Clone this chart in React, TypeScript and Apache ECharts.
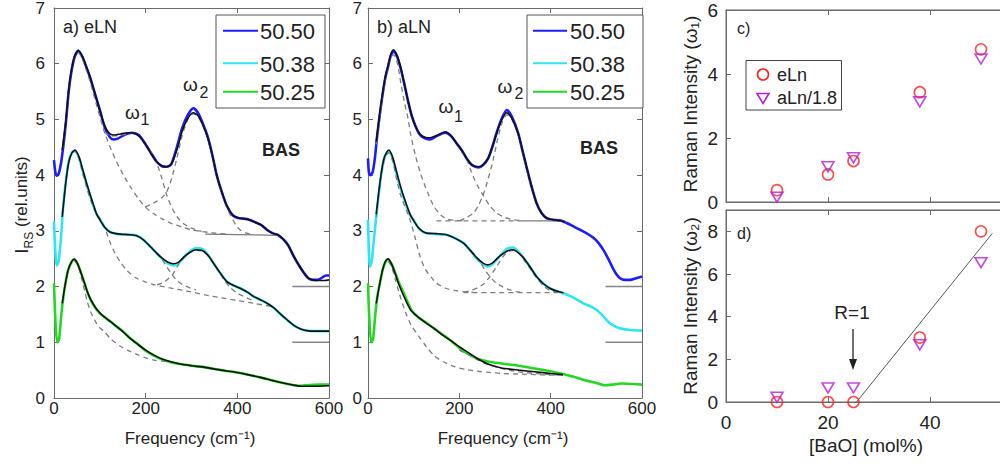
import React, { useEffect, useRef } from 'react';
import * as echarts from 'echarts';

// ---------- data ----------
const sampleNames = ['50.50', '50.38', '50.25'];
const sampleColors = ['#1c1cff', '#2de6f2', '#22d822'];

// panel a) eLN
const aBlue = [[0,4.27],[3,4.05],[6,3.99],[10,4.02],[15,4.2],[20,4.5],[26,4.95],[32,5.5],[38,5.86],[45,6.12],[53,6.23],[62,6.12],[70,5.95],[78,5.77],[88,5.5],[100,5.17],[111,4.85],[122,4.68],[130,4.64],[140,4.66],[155,4.73],[170,4.76],[185,4.72],[200,4.55],[213,4.38],[224,4.24],[236,4.16],[246,4.15],[256,4.2],[268,4.5],[280,4.85],[292,5.08],[304,5.2],[314,5.12],[325,4.92],[335,4.7],[345,4.38],[355,4.0],[366,3.7],[377,3.45],[390,3.28],[402,3.23],[414,3.22],[426,3.2],[440,3.15],[453,3.1],[466,3.01],[479,2.95],[490,2.92],[500,2.85],[511,2.74],[522,2.56],[533,2.4],[545,2.25],[555,2.15],[565,2.12],[575,2.12],[585,2.16],[593,2.2],[600,2.2]];
const aBlueFit = [[18,4.45],[26,4.98],[32,5.52],[38,5.88],[45,6.14],[53,6.24],[62,6.13],[70,5.96],[78,5.78],[88,5.5],[100,5.16],[111,4.88],[122,4.74],[133,4.72],[145,4.74],[160,4.76],[175,4.75],[188,4.68],[200,4.55],[213,4.37],[224,4.24],[236,4.16],[246,4.15],[256,4.2],[268,4.45],[280,4.8],[292,5.02],[304,5.12],[314,5.07],[325,4.9],[335,4.68],[345,4.37],[355,4.0],[366,3.7],[377,3.45],[390,3.28],[402,3.23],[414,3.22],[426,3.2],[440,3.15],[453,3.1],[466,3.01],[479,2.95],[490,2.92],[500,2.85],[511,2.74],[522,2.56],[533,2.4],[545,2.25],[555,2.15],[565,2.12],[575,2.11],[590,2.11],[600,2.12]];
const aBlueC1 = [[18,4.45],[26,4.98],[32,5.52],[38,5.88],[45,6.12],[53,6.2],[62,6.08],[70,5.9],[78,5.7],[88,5.4],[100,5.05],[111,4.75],[125,4.45],[140,4.18],[155,3.95],[169,3.76],[184,3.58],[199,3.43],[217,3.31],[235,3.22],[257,3.13],[279,3.07],[300,3.02],[322,2.99],[350,2.96],[380,2.94]];
const aBlueW1 = [[110,4.77],[125,4.7],[140,4.71],[155,4.73],[170,4.75],[185,4.7],[200,4.55],[213,4.4],[224,4.22],[235,3.95],[246,3.64],[257,3.42],[268,3.26],[282,3.13],[300,3.05],[322,2.99]];
const aBlueW2 = [[199,3.43],[213,3.48],[226,3.54],[236,3.6],[246,3.7],[257,3.95],[268,4.3],[280,4.72],[292,5.0],[304,5.1],[314,5.05],[325,4.88],[335,4.66],[345,4.35],[355,4.0],[366,3.68],[377,3.42],[390,3.2],[400,3.07],[409,3.0],[420,2.96],[431,2.94]];
const aBlueBase = [[330,2.94],[490,2.92]];

const aCyan = [[0,3.17],[3,2.6],[6,2.38],[10,2.45],[15,2.85],[20,3.43],[26,3.9],[32,4.25],[39,4.4],[46,4.43],[55,4.3],[62,4.1],[71,3.85],[80,3.6],[86,3.45],[93,3.3],[100,3.21],[111,3.06],[122,2.98],[135,2.95],[150,2.93],[166,2.93],[180,2.92],[195,2.84],[210,2.72],[224,2.6],[236,2.5],[248,2.42],[260,2.38],[272,2.42],[285,2.54],[298,2.64],[310,2.69],[322,2.68],[335,2.58],[348,2.42],[362,2.25],[377,2.09],[392,2.02],[406,1.97],[422,1.9],[436,1.82],[451,1.76],[465,1.7],[479,1.62],[495,1.5],[509,1.4],[524,1.3],[538,1.24],[551,1.21],[570,1.2],[600,1.2]];
const aCyanFit = [[18,3.25],[26,3.88],[32,4.22],[39,4.4],[46,4.45],[55,4.32],[62,4.12],[71,3.86],[80,3.62],[86,3.47],[93,3.3],[100,3.2],[111,3.06],[122,2.98],[135,2.95],[150,2.94],[166,2.93],[180,2.91],[195,2.84],[210,2.72],[224,2.6],[236,2.51],[248,2.44],[260,2.41],[272,2.44],[285,2.54],[298,2.62],[310,2.66],[322,2.65],[335,2.57],[348,2.42],[362,2.25],[377,2.09],[392,2.02],[406,1.97],[422,1.9],[436,1.82],[451,1.76],[465,1.7],[479,1.62],[495,1.5],[509,1.4],[524,1.3],[538,1.24],[551,1.21],[570,1.2],[600,1.2]];
const aCyanC1 = [[18,3.3],[26,3.9],[32,4.25],[39,4.4],[46,4.43],[55,4.28],[62,4.05],[71,3.78],[80,3.55],[90,3.35],[100,3.22],[111,3.05],[122,2.8],[133,2.6],[144,2.45],[160,2.28],[180,2.15],[200,2.08],[220,2.03],[250,1.98],[290,1.92],[330,1.85],[364,1.8],[400,1.75],[436,1.7],[476,1.64]];
const aCyanW1 = [[210,2.72],[224,2.6],[236,2.48],[247,2.34],[258,2.21],[268,2.11],[280,2.04],[295,1.98],[310,1.94]];
const aCyanW2 = [[225,2.03],[240,2.08],[258,2.21],[272,2.4],[285,2.54],[298,2.62],[310,2.65],[322,2.64],[335,2.56],[348,2.42],[362,2.25],[371,2.12],[385,1.98],[400,1.88],[420,1.8],[436,1.74]];

const aGreen = [[0,2.06],[3,1.4],[7,1.0],[11,1.05],[16,1.5],[21,1.85],[25,2.06],[31,2.3],[38,2.44],[44,2.49],[52,2.4],[60,2.22],[67,2.05],[73,1.9],[80,1.76],[90,1.62],[100,1.52],[109,1.46],[125,1.36],[137,1.28],[150,1.2],[165,1.08],[182,0.97],[200,0.85],[218,0.76],[236,0.69],[255,0.64],[275,0.61],[300,0.58],[330,0.55],[364,0.5],[391,0.47],[422,0.42],[450,0.37],[479,0.31],[500,0.27],[524,0.23],[540,0.22],[555,0.23],[580,0.24],[600,0.24]];
const aGreenFit = [[18,1.7],[25,2.06],[31,2.3],[38,2.44],[44,2.49],[52,2.4],[60,2.22],[67,2.05],[73,1.9],[80,1.77],[90,1.63],[100,1.53],[109,1.46],[125,1.36],[137,1.28],[150,1.19],[165,1.08],[182,0.97],[200,0.86],[218,0.77],[236,0.7],[255,0.65],[275,0.61],[300,0.58],[330,0.55],[364,0.5],[391,0.47],[422,0.42],[450,0.37],[479,0.31],[500,0.27],[524,0.23],[540,0.21],[560,0.21],[600,0.22]];
const aGreenC1 = [[44,2.47],[52,2.38],[60,2.15],[67,1.92],[73,1.72],[80,1.55],[90,1.38],[100,1.26],[109,1.2],[125,1.05],[145,0.93],[165,0.84],[182,0.78],[200,0.72],[218,0.68],[236,0.66],[255,0.64]];

// panel b) aLN
const bBlue = [[0,4.3],[2,4.05],[5,4.0],[10,4.05],[15,4.3],[20,4.7],[26,5.1],[32,5.45],[38,5.75],[44,5.95],[50,6.15],[56,6.22],[64,6.12],[72,5.9],[80,5.62],[88,5.32],[96,5.06],[105,4.86],[114,4.72],[125,4.66],[136,4.64],[150,4.7],[169,4.76],[182,4.7],[194,4.57],[205,4.45],[216,4.3],[228,4.18],[242,4.14],[252,4.18],[263,4.3],[272,4.5],[282,4.77],[292,5.0],[304,5.17],[315,5.05],[329,4.75],[338,4.45],[347,4.15],[358,3.8],[369,3.5],[380,3.32],[391,3.23],[405,3.2],[420,3.19],[435,3.14],[450,3.08],[464,3.02],[478,2.96],[493,2.88],[505,2.78],[516,2.65],[526,2.5],[535,2.35],[544,2.22],[552,2.15],[562,2.12],[574,2.12],[587,2.15],[600,2.18]];
const bBlueFit = [[18,4.6],[26,5.12],[32,5.47],[38,5.77],[44,5.97],[50,6.17],[56,6.25],[64,6.14],[72,5.92],[80,5.62],[88,5.32],[96,5.06],[105,4.86],[114,4.74],[125,4.68],[136,4.67],[150,4.71],[169,4.78],[182,4.71],[194,4.57],[205,4.45],[216,4.3],[228,4.18],[242,4.15],[252,4.19],[263,4.3],[272,4.5],[282,4.76],[292,4.98],[304,5.12],[315,5.02],[329,4.74],[338,4.45],[347,4.15],[358,3.8],[369,3.5],[380,3.32],[391,3.23],[405,3.2],[420,3.18],[430,3.17]];
const bBlueC1 = [[18,4.55],[26,5.05],[32,5.42],[40,5.8],[48,6.1],[56,6.16],[64,6.02],[72,5.65],[80,5.3],[88,5.0],[93,4.75],[104,4.35],[115,4.03],[130,3.7],[145,3.43],[160,3.28],[174,3.21],[190,3.19],[210,3.18]];
const bBlueW1 = [[194,4.55],[205,4.42],[216,4.28],[230,3.98],[242,3.78],[252,3.64],[265,3.47],[282,3.32],[300,3.24],[318,3.2],[340,3.18]];
const bBlueW2 = [[201,3.18],[216,3.24],[231,3.32],[242,3.46],[252,3.64],[263,3.93],[274,4.27],[284,4.65],[294,4.95],[304,5.08],[315,5.0],[329,4.72],[338,4.42],[347,4.12],[358,3.78],[369,3.5],[380,3.33],[391,3.24],[405,3.2],[420,3.18]];
const bBlueBaseDash = [[150,3.18],[330,3.18]];
const bBlueBaseSolid = [[330,3.18],[430,3.18]];

const bCyan = [[0,3.2],[2,2.6],[4,2.36],[8,2.45],[13,2.85],[20,3.4],[27,3.9],[34,4.25],[40,4.38],[46,4.42],[54,4.3],[62,4.05],[70,3.8],[80,3.55],[92,3.28],[99,3.2],[110,3.06],[120,2.98],[128,2.96],[150,2.94],[172,2.93],[190,2.87],[209,2.78],[224,2.65],[238,2.5],[252,2.4],[262,2.36],[272,2.4],[289,2.55],[305,2.68],[318,2.7],[330,2.62],[340,2.52],[355,2.35],[369,2.18],[383,2.06],[398,1.97],[413,1.92],[428,1.88],[450,1.8],[471,1.7],[486,1.65],[501,1.58],[515,1.47],[530,1.34],[542,1.28],[552,1.25],[575,1.22],[600,1.21]];
const bCyanFit = [[18,3.3],[27,3.92],[34,4.27],[40,4.4],[46,4.45],[54,4.32],[62,4.08],[70,3.83],[80,3.57],[92,3.3],[99,3.2],[110,3.06],[120,2.99],[128,2.96],[150,2.95],[172,2.93],[190,2.87],[209,2.78],[224,2.65],[238,2.52],[252,2.42],[262,2.39],[272,2.42],[289,2.55],[305,2.64],[318,2.66],[330,2.6],[340,2.52],[355,2.35],[369,2.18],[383,2.06],[398,1.97],[413,1.92],[428,1.89]];
const bCyanC1 = [[18,3.25],[27,3.88],[34,4.22],[40,4.36],[46,4.4],[54,4.25],[62,3.95],[70,3.68],[80,3.45],[92,3.2],[103,2.88],[114,2.54],[125,2.32],[140,2.15],[150,2.06],[170,1.97],[190,1.93],[209,1.91],[230,1.9]];
const bCyanW1 = [[224,2.65],[238,2.52],[245,2.45],[256,2.3],[267,2.18],[280,2.07],[296,1.99],[311,1.94],[325,1.91],[340,1.89]];
const bCyanW2 = [[210,1.9],[225,1.93],[240,1.98],[255,2.06],[267,2.18],[280,2.34],[296,2.54],[308,2.63],[318,2.65],[330,2.6],[340,2.5],[355,2.32],[369,2.16],[383,2.02],[398,1.93],[413,1.9]];
const bCyanBase = [[209,1.89],[428,1.89]];

const bGreen = [[0,2.06],[3,1.4],[7,1.0],[11,1.05],[16,1.5],[21,1.85],[26,2.06],[32,2.3],[38,2.44],[44,2.49],[52,2.4],[60,2.24],[67,2.08],[73,1.98],[80,1.85],[88,1.7],[95,1.58],[110,1.45],[128,1.35],[146,1.24],[165,1.13],[183,1.02],[200,0.9],[219,0.79],[241,0.7],[265,0.65],[292,0.62],[330,0.58],[365,0.53],[400,0.48],[427,0.43],[450,0.38],[475,0.32],[500,0.27],[518,0.23],[535,0.24],[555,0.26],[580,0.25],[600,0.24]];
const bGreenFit = [[18,1.7],[26,2.06],[32,2.3],[38,2.45],[44,2.5],[52,2.4],[60,2.22],[67,2.05],[73,1.93],[80,1.8],[88,1.66],[95,1.56],[110,1.45],[128,1.34],[146,1.24],[165,1.12],[183,1.02],[200,0.92],[219,0.82],[241,0.7],[265,0.6],[292,0.54],[330,0.5],[365,0.47],[400,0.44],[427,0.42]];
const bGreenC1 = [[44,2.46],[52,2.35],[60,2.12],[67,1.92],[73,1.76],[84,1.5],[95,1.3],[110,1.12],[128,0.92],[146,0.75],[165,0.65],[190,0.56],[215,0.51],[241,0.48],[265,0.46],[292,0.44],[330,0.43],[365,0.42],[400,0.41],[427,0.41]];
const bGreenW = [[200,0.86],[219,0.78],[241,0.68],[265,0.6],[292,0.53],[330,0.47],[365,0.44],[400,0.42],[427,0.41]];

// offset reference segments (right side of panels a, b)
const offsetLine2 = [[520,2],[600,2]];
const offsetLine1 = [[520,1],[600,1]];

// panels c) and d)
const baoMol = [10, 20, 25, 38, 50];
const omega1ELn = [0.37, 0.86, 1.28, 3.43, 4.77];
const omega1ALn = [0.15, 1.1, 1.38, 3.13, 4.47];
const omega2ELn = [0, 0, 0, 3.02, 8.0];
const omega2ALn = [0.22, 0.66, 0.66, 2.68, 6.53];
const omega2Fit = [[25.6, 0], [52.2, 7.9]];
const markerNames = ['eLn', 'aLn/1.8'];

// ---------- styling ----------
const FONT = '"Liberation Sans", Arial, Helvetica, sans-serif';
const AX = '#6a6a6a';
const TXT = '#222';
const DASH = '#7c7c7c';
const RED = '#ff1f1f';
const PURPLE = '#b41fd6';

function curve(data: number[][], idx: number, color: string, width: number, dashed = false, z = 2) {
  return {
    type: 'line', xAxisIndex: idx, yAxisIndex: idx, data, symbol: 'none', showSymbol: false,
    smooth: 0.25, silent: true, z,
    lineStyle: { color, width, type: dashed ? [5, 4] : 'solid' },
  };
}

function xAx(grid: number, min: number, max: number, interval: number, labels: boolean, top = false, margin = 2, fontSize = 17, showMax = true) {
  return {
    gridIndex: grid, type: 'value', min, max, interval, position: top ? 'top' : 'bottom',
    axisLine: { show: true, onZero: false, lineStyle: { color: AX, width: 1 } },
    axisTick: { show: true, inside: true, length: 5, lineStyle: { color: AX } },
    axisLabel: { show: labels, fontSize, color: TXT, margin, fontFamily: FONT, showMaxLabel: showMax },
    splitLine: { show: false },
  };
}
function yAx(grid: number, min: number, max: number, interval: number, labels: boolean, right = false, margin = 9, fontSize = 17, showMax = true) {
  return {
    gridIndex: grid, type: 'value', min, max, interval, position: right ? 'right' : 'left',
    axisLine: { show: true, onZero: false, lineStyle: { color: AX, width: 1 } },
    axisTick: { show: true, inside: true, length: 5, lineStyle: { color: AX } },
    axisLabel: { show: labels, fontSize, color: TXT, margin, fontFamily: FONT, showMaxLabel: showMax },
    splitLine: { show: false },
  };
}

function txt(x: number, y: number, text: string, size: number, opts: any = {}) {
  return {
    type: 'text', x, y, rotation: opts.rotation || 0, silent: true, z: 100,
    style: {
      text, fontSize: size, fontFamily: FONT, fontWeight: opts.bold ? 'bold' : 'normal',
      fill: opts.color || TXT, textAlign: opts.align || 'center', textVerticalAlign: 'middle',
      align: opts.align || 'center', verticalAlign: 'middle', rich: opts.rich,
    },
  };
}

function lineLegend(left: number, right: number, lineX0: number, lineX1: number, textX: number) {
  const ys = [30.7, 63.3, 91.7];
  const els: any[] = [{
    type: 'rect', silent: true, z: 99,
    shape: { x: left, y: 15, width: right - left, height: 93 },
    style: { fill: '#fff', stroke: '#555', lineWidth: 1 },
  }];
  sampleNames.forEach((n, i) => {
    els.push({ type: 'line', silent: true, z: 100, shape: { x1: lineX0, y1: ys[i], x2: lineX1, y2: ys[i] }, style: { stroke: sampleColors[i], lineWidth: 2 } });
    els.push(txt(textX, ys[i] + 1, n, 22, { align: 'left' }));
  });
  return els;
}

export default function App() {
  const ref = useRef<HTMLDivElement>(null);
  useEffect(() => {
    if (!ref.current) return;
    const chart = echarts.init(ref.current, undefined, { renderer: 'svg' });
    const series: any[] = [];
    const panelSets = [
      [
        [aBlue, aBlueFit, [aBlueC1, aBlueW1, aBlueW2], [aBlueBase]],
        [aCyan, aCyanFit, [aCyanC1, aCyanW1, aCyanW2], []],
        [aGreen, aGreenFit, [aGreenC1], []],
      ],
      [
        [bBlue, bBlueFit, [bBlueC1, bBlueW1, bBlueW2, bBlueBaseDash], [bBlueBaseSolid]],
        [bCyan, bCyanFit, [bCyanC1, bCyanW1, bCyanW2, bCyanBase], []],
        [bGreen, bGreenFit, [bGreenC1, bGreenW], []],
      ],
    ];
    panelSets.forEach((sets, p) => {
      sets.forEach((s: any, i) => {
        series.push({ ...curve(s[0], p, sampleColors[i], 2.6, false, 2), name: sampleNames[i] });
      });
      sets.forEach((s: any) => {
        s[2].forEach((d: number[][]) => series.push(curve(d, p, DASH, 1.3, true, 3)));
        s[3].forEach((d: number[][]) => series.push({ ...curve(d, p, DASH, 1.3, false, 3), smooth: false }));
      });
      sets.forEach((s: any) => {
        series.push(curve(s[1], p, '#111', 1.6, false, 4));
      });
      series.push({ ...curve(offsetLine2, p, '#858585', 1.6, false, 3), smooth: false });
      series.push({ ...curve(offsetLine1, p, '#858585', 1.6, false, 3), smooth: false });
    });

    const empty = 'rgba(0,0,0,0)';
    series.push({
      type: 'scatter', name: markerNames[0], xAxisIndex: 2, yAxisIndex: 2, symbol: 'circle', symbolSize: 11,
      data: baoMol.map((x, i) => [x, omega1ELn[i]]),
      itemStyle: { color: empty, borderColor: RED, borderWidth: 1.6 }, z: 5,
    });
    series.push({
      type: 'scatter', name: markerNames[1], xAxisIndex: 2, yAxisIndex: 2, symbol: 'triangle', symbolRotate: 180, symbolSize: [12, 10],
      data: baoMol.map((x, i) => [x, omega1ALn[i]]),
      itemStyle: { color: empty, borderColor: PURPLE, borderWidth: 1.6 }, z: 5,
    });
    series.push({
      type: 'line', xAxisIndex: 3, yAxisIndex: 3, data: omega2Fit, symbol: 'none', silent: true,
      lineStyle: { color: '#555', width: 1 }, z: 3,
    });
    series.push({
      type: 'scatter', name: markerNames[0], xAxisIndex: 3, yAxisIndex: 3, symbol: 'circle', symbolSize: 11,
      data: baoMol.map((x, i) => [x, omega2ELn[i]]),
      itemStyle: { color: empty, borderColor: RED, borderWidth: 1.6 }, z: 5,
    });
    series.push({
      type: 'scatter', name: markerNames[1], xAxisIndex: 3, yAxisIndex: 3, symbol: 'triangle', symbolRotate: 180, symbolSize: [12, 10],
      data: baoMol.map((x, i) => [x, omega2ALn[i]]),
      itemStyle: { color: empty, borderColor: PURPLE, borderWidth: 1.6 }, z: 5,
    });

    const graphic: any[] = [
      txt(63, 27, 'a) eLN', 18, { align: 'left' }),
      txt(377, 27, 'b) aLN', 18, { align: 'left' }),
      txt(132.5, 112, 'ω', 19), txt(145, 119, '1', 16),
      txt(190.5, 84, 'ω', 19), txt(204, 92, '2', 16),
      txt(446, 106, 'ω', 19), txt(458.5, 116, '1', 16),
      txt(505, 86, 'ω', 19), txt(519, 93, '2', 16),
      txt(281, 150, 'BAS', 18, { bold: true }),
      txt(599, 148, 'BAS', 18, { bold: true }),
      ...lineLegend(216, 325, 223, 258, 260),
      ...lineLegend(527, 643, 533, 567, 570),
      txt(190, 438, 'Frequency (cm⁻¹)', 17),
      txt(503, 438, 'Frequency (cm⁻¹)', 17),
      txt(21, 205, '{a|I}{b|RS}{c| (rel.units)}', 17, {
        rotation: Math.PI / 2,
        rich: {
          a: { fontSize: 19, fontFamily: FONT, fill: TXT, lineHeight: 28, verticalAlign: 'middle' },
          b: { fontSize: 12, fontFamily: FONT, fill: TXT, lineHeight: 12, verticalAlign: 'bottom' },
          c: { fontSize: 17, fontFamily: FONT, fill: TXT, lineHeight: 28, verticalAlign: 'middle' },
        },
      }),
      txt(690, 104, 'Raman Intensity (ω₁)', 19, { rotation: Math.PI / 2 }),
      txt(690, 306, 'Raman Intensity (ω₂)', 19, { rotation: Math.PI / 2 }),
      txt(866, 445, '[BaO] (mol%)', 19),
      txt(737, 28, 'c)', 16, { align: 'left' }),
      txt(737, 233, 'd)', 16, { align: 'left' }),
      txt(852, 312, 'R=1', 19),
      { type: 'line', silent: true, z: 100, shape: { x1: 853, y1: 329, x2: 853, y2: 362 }, style: { stroke: '#222', lineWidth: 1.3 } },
      { type: 'polygon', silent: true, z: 100, shape: { points: [[849, 359], [857, 359], [853, 370]] }, style: { fill: '#222' } },
      { type: 'rect', silent: true, z: 99, shape: { x: 746, y: 60.5, width: 95.5, height: 49.5 }, style: { fill: '#fff', stroke: '#444', lineWidth: 1 } },
      { type: 'circle', silent: true, z: 100, shape: { cx: 763, cy: 74.5, r: 5.5 }, style: { fill: empty, stroke: RED, lineWidth: 1.6 } },
      txt(777, 75, markerNames[0], 18, { align: 'left' }),
      { type: 'polygon', silent: true, z: 100, shape: { points: [[757, 93.5], [769, 93.5], [763, 103.5]] }, style: { fill: empty, stroke: PURPLE, lineWidth: 1.6 } },
      txt(777, 98, markerNames[1], 18, { align: 'left' }),
    ];

    const gridBase = { outerBoundsMode: 'none', containLabel: false };
    chart.setOption({
      animation: false,
      backgroundColor: '#fff',
      textStyle: { fontFamily: FONT },
      grid: [
        { ...gridBase, left: 54, top: 8, width: 275, height: 390, show: false },
        { ...gridBase, left: 368, top: 8, width: 274, height: 390, show: false },
        { ...gridBase, left: 726, top: 10, width: 306, height: 192, show: true, borderColor: AX, borderWidth: 1, backgroundColor: 'transparent' },
        { ...gridBase, left: 726, top: 210, width: 306, height: 192, show: true, borderColor: AX, borderWidth: 1, backgroundColor: 'transparent' },
      ],
      xAxis: [
        xAx(0, 0, 600, 200, true),
        xAx(1, 0, 600, 200, true),
        xAx(2, 0, 60, 20, false),
        xAx(3, 0, 60, 20, true, false, 11, 19, false),
        xAx(0, 0, 600, 200, false, true),
        xAx(1, 0, 600, 200, false, true),
        xAx(2, 0, 60, 20, false, true),
        xAx(3, 0, 60, 20, false, true),
      ],
      yAxis: [
        yAx(0, 0, 7, 1, true, false, 9),
        yAx(1, 0, 7, 1, true, false, 6),
        yAx(2, 0, 6, 2, true, false, 8, 19),
        yAx(3, 0, 9, 2, true, false, 8, 19, false),
        yAx(0, 0, 7, 1, false, true),
        yAx(1, 0, 7, 1, false, true),
      ],
      series,
      graphic,
    });
    return () => chart.dispose();
  }, []);
  return <div ref={ref} style={{ position: 'fixed', left: 0, top: 0, width: 1060, height: 464, background: '#fff' }} />;
}
